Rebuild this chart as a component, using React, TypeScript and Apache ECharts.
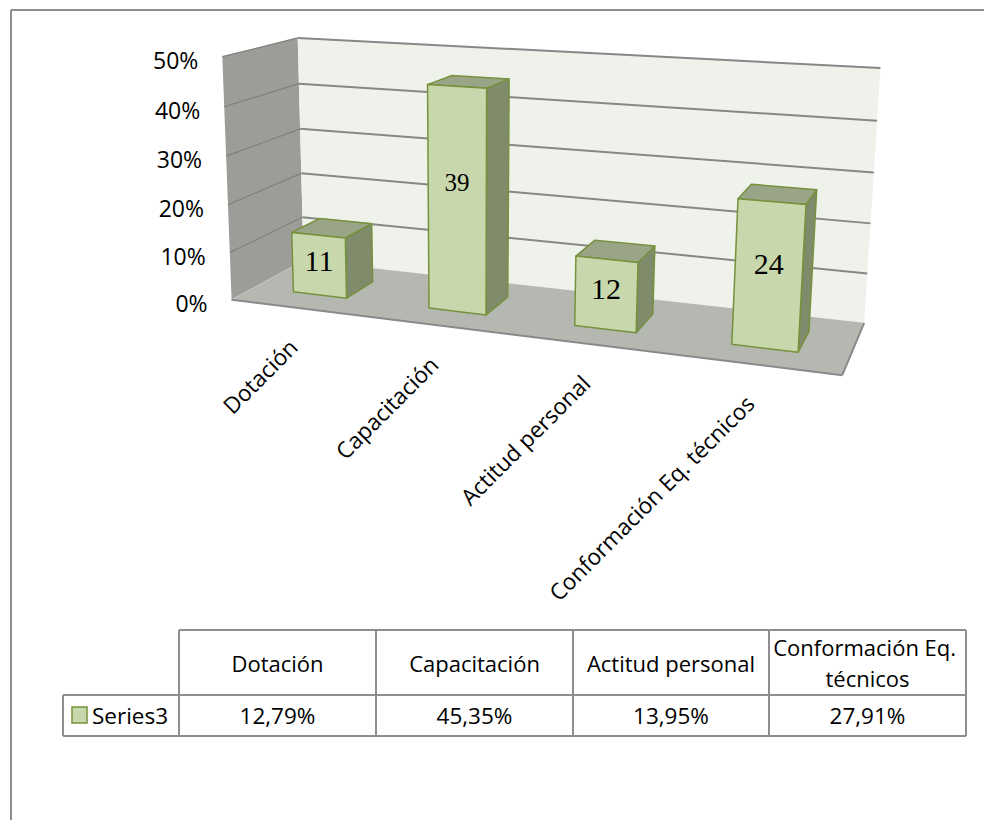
import React, { useEffect, useRef } from 'react';
import * as echarts from 'echarts';

// ---------- data ----------
const categories = ['Dotación', 'Capacitación', 'Actitud personal', 'Conformación Eq. técnicos'];
const percentValues = [12.79, 45.35, 13.95, 27.91];
const barLabels = [11, 39, 12, 24];
const yTicks = [0, 10, 20, 30, 40, 50];
const seriesName = 'Series3';

// ---------- styles ----------
const BACK_WALL = '#eef2eb';
const GRID_LINE = '#878787';
const LEFT_WALL = '#9c9d98';
const LEFT_GRID = '#7f807b';
const FLOOR = '#b5b7b1';
const FLOOR_EDGE = '#8a8a8a';
const BAR_FRONT = '#c8d8ac';
const BAR_SIDE = '#7f8b6b';
const BAR_TOP = '#9aa486';
const BAR_EDGE = '#76923c';
const TABLE_LINE = '#8e8e8e';
const SANS = "'Open Sans', 'Noto Sans', sans-serif";
const SERIF = "'Liberation Serif', 'DejaVu Serif', serif";
const LABEL_FONT = [30, 25, 30, 30];

// ---------- perspective camera (fitted to the 3D box layout) ----------
function solveLinear(A: number[][], b: number[]): number[] {
  const n = b.length;
  const M = A.map((r, i) => [...r, b[i]]);
  for (let c = 0; c < n; c++) {
    let p = c;
    for (let r = c + 1; r < n; r++) if (Math.abs(M[r][c]) > Math.abs(M[p][c])) p = r;
    const t = M[c]; M[c] = M[p]; M[p] = t;
    for (let r = 0; r < n; r++) {
      if (r === c) continue;
      const f = M[r][c] / M[c][c];
      for (let k = c; k <= n; k++) M[r][k] -= f * M[c][k];
    }
  }
  return M.map((r, i) => r[n] / r[i]);
}

function buildCamera() {
  // [u, v, w, screenX, screenY] : u across categories, v value fraction, w depth (0 front, 1 back)
  const calib: number[][] = [
    [0, 0, 0, 235, 299], [1, 0, 0, 842, 377], [0, 1, 0, 220, 57],
    [0, 0, 1, 300, 263], [1, 0, 1, 865, 321], [0, 1, 1, 301, 38], [1, 1, 1, 880, 68],
    [0, 0.8, 0, 222, 107], [0, 0.6, 0, 225, 156], [0, 0.4, 0, 228, 204], [0, 0.2, 0, 232, 252],
    [0, 0.8, 1, 300, 84], [0, 0.6, 1, 301, 128], [0, 0.4, 1, 301, 173], [0, 0.2, 1, 301, 217],
    [1, 0.8, 1, 877, 121], [1, 0.6, 1, 874, 173], [1, 0.2, 1, 867, 273],
  ];
  const AtA = Array.from({ length: 11 }, () => new Array(11).fill(0));
  const Atb = new Array(11).fill(0);
  const add = (row: number[], rhs: number) => {
    for (let i = 0; i < 11; i++) {
      Atb[i] += row[i] * rhs;
      for (let j = 0; j < 11; j++) AtA[i][j] += row[i] * row[j];
    }
  };
  for (const [u, v, w, x, y] of calib) {
    const xn = x / 1000, yn = y / 1000;
    add([u, v, w, 1, 0, 0, 0, 0, -xn * u, -xn * v, -xn * w], xn);
    add([0, 0, 0, 0, u, v, w, 1, -yn * u, -yn * v, -yn * w], yn);
  }
  const p = solveLinear(AtA, Atb);
  return (u: number, v: number, w: number): number[] => {
    const d = p[8] * u + p[9] * v + p[10] * w + 1;
    return [
      (1000 * (p[0] * u + p[1] * v + p[2] * w + p[3])) / d,
      (1000 * (p[4] * u + p[5] * v + p[6] * w + p[7])) / d,
    ];
  };
}
const P = buildCamera();

function normalizer(params: any) {
  const cs = params.coordSys;
  return {
    toU: (px: number) => (px - cs.x) / cs.width,
    toV: (py: number) => (cs.y + cs.height - py) / cs.height,
  };
}

const W0 = 0.3;
const W1 = 0.7;
const BAR_FRACTION = 0.4;

function renderWalls(params: any, api: any) {
  const { toU, toV } = normalizer(params);
  const children: any[] = [];
  const poly = (pts: number[][], fill: string) => ({
    type: 'polygon',
    shape: { points: pts },
    style: { fill, stroke: 'none' },
  });
  children.push(poly([P(0, 0, 0), P(0, 0, 1), P(0, 1, 1), P(0, 1, 0)], LEFT_WALL));
  children.push(poly([P(0, 0, 1), P(1, 0, 1), P(1, 1, 1), P(0, 1, 1)], BACK_WALL));
  children.push(poly([P(0, 0, 0), P(1, 0, 0), P(1, 0, 1), P(0, 0, 1)], FLOOR));
  const line = (a: number[], b: number[], stroke: string, lw: number) => ({
    type: 'line',
    shape: { x1: a[0], y1: a[1], x2: b[0], y2: b[1] },
    style: { stroke, lineWidth: lw },
  });
  yTicks.forEach((t) => {
    const v = toV(api.coord([0, t])[1]);
    if (t > 0) {
      children.push(line(P(0, v, 1), P(1, v, 1), GRID_LINE, 2));
      children.push(line(P(0, v, 0), P(0, v, 1), LEFT_GRID, 1.2));
    }
    const q = P(0, v, 0);
    children.push({
      type: 'text',
      x: q[0] - 24,
      y: q[1] + 3,
      style: {
        text: t + '%',
        fontSize: 23,
        fontFamily: SANS,
        fill: '#000',
        align: 'right',
        verticalAlign: 'middle',
        textAlign: 'right',
        textVerticalAlign: 'middle',
      },
    });
  });
  children.push(line(P(0, 0, 0), P(0, 0, 1), '#c4c5c1', 1));
  children.push(line(P(0, 0, 0), P(1, 0, 0), FLOOR_EDGE, 2));
  children.push(line(P(1, 0, 0), P(1, 0, 1), FLOOR_EDGE, 2));
  categories.forEach((c, i) => {
    const u = toU(api.coord([i, 0])[0]);
    const q = P(u, 0, 0);
    children.push({
      type: 'text',
      x: q[0] - 5,
      y: q[1] + 35,
      rotation: Math.PI / 4,
      style: {
        text: c,
        fontSize: 22.5,
        fontFamily: SANS,
        fill: '#000',
        align: 'right',
        verticalAlign: 'middle',
        textAlign: 'right',
        textVerticalAlign: 'middle',
      },
    });
  });
  return { type: 'group', children };
}

function renderBar(params: any, api: any) {
  const { toU, toV } = normalizer(params);
  const i = api.value(0);
  const val = api.value(1);
  const top = api.coord([i, val]);
  const band = api.size([1, 0])[0];
  const u0 = toU(top[0] - (BAR_FRACTION / 2) * band);
  const u1 = toU(top[0] + (BAR_FRACTION / 2) * band);
  const v = toV(top[1]);
  const face = (pts: number[][], fill: string) => ({
    type: 'polygon',
    shape: { points: pts },
    style: { fill, stroke: BAR_EDGE, lineWidth: 1.5, lineJoin: 'round' },
  });
  const children: any[] = [
    face([P(u1, 0, W0), P(u1, 0, W1), P(u1, v, W1), P(u1, v, W0)], BAR_SIDE),
    face([P(u0, v, W0), P(u1, v, W0), P(u1, v, W1), P(u0, v, W1)], BAR_TOP),
    face([P(u0, 0, W0), P(u1, 0, W0), P(u1, v, W0), P(u0, v, W0)], BAR_FRONT),
  ];
  const c = P((u0 + u1) / 2, v * 0.58, W0);
  const idx = params.dataIndex;
  children.push({
    type: 'text',
    x: c[0],
    y: c[1],
    style: {
      text: String(barLabels[idx]),
      fontSize: LABEL_FONT[idx],
      fontFamily: SERIF,
      fill: '#000',
      align: 'center',
      verticalAlign: 'middle',
      textAlign: 'center',
      textVerticalAlign: 'middle',
    },
  });
  return { type: 'group', children };
}

function fmtPct(v: number) {
  return v.toFixed(2).replace('.', ',') + '%';
}

function buildTable(): any[] {
  const els: any[] = [];
  const colX = [179, 376, 573, 769, 966];
  const yTop = 630, yMid = 695, yBot = 736, xLeft = 63;
  const ln = (x1: number, y1: number, x2: number, y2: number) => ({
    type: 'line',
    shape: { x1, y1, x2, y2 },
    style: { stroke: TABLE_LINE, lineWidth: 2 },
    z: 10,
  });
  els.push(ln(colX[0], yTop, colX[4], yTop));
  els.push(ln(xLeft, yMid, colX[4], yMid));
  els.push(ln(xLeft, yBot, colX[4], yBot));
  els.push(ln(xLeft, yMid, xLeft, yBot));
  colX.forEach((x) => els.push(ln(x, yTop, x, yBot)));
  categories.forEach((c, i) => {
    const cx = (colX[i] + colX[i + 1]) / 2;
    els.push({
      type: 'text',
      x: cx,
      y: (yTop + yMid) / 2,
      z: 10,
      style: {
        text: c,
        width: 215,
        overflow: 'break',
        lineHeight: 31,
        fontSize: 22,
        fontFamily: SANS,
        fill: '#000',
        align: 'center',
        verticalAlign: 'middle',
        textAlign: 'center',
        textVerticalAlign: 'middle',
      },
    });
    els.push({
      type: 'text',
      x: cx,
      y: (yMid + yBot) / 2,
      z: 10,
      style: {
        text: fmtPct(percentValues[i]),
        fontSize: 22.5,
        fontFamily: SANS,
        fill: '#000',
        align: 'center',
        verticalAlign: 'middle',
        textAlign: 'center',
        textVerticalAlign: 'middle',
      },
    });
  });
  els.push({
    type: 'rect',
    shape: { x: 72, y: 707, width: 15, height: 16 },
    style: { fill: BAR_FRONT, stroke: BAR_EDGE, lineWidth: 1.5 },
    z: 10,
  });
  els.push({
    type: 'text',
    x: 92,
    y: (yMid + yBot) / 2,
    z: 10,
    style: {
      text: seriesName,
      fontSize: 22.5,
      fontFamily: SANS,
      fill: '#000',
      align: 'left',
      verticalAlign: 'middle',
      textAlign: 'left',
      textVerticalAlign: 'middle',
    },
  });
  // chart area border
  els.push({
    type: 'line',
    shape: { x1: 11, y1: 10, x2: 990, y2: 10 },
    style: { stroke: TABLE_LINE, lineWidth: 2 },
  });
  els.push({
    type: 'line',
    shape: { x1: 11, y1: 10, x2: 11, y2: 830 },
    style: { stroke: TABLE_LINE, lineWidth: 2 },
  });
  return els;
}

export default function App() {
  const ref = useRef<HTMLDivElement>(null);
  useEffect(() => {
    if (!ref.current) return;
    const chart = echarts.init(ref.current, null, { renderer: 'svg' });
    chart.setOption({
      animation: false,
      backgroundColor: '#ffffff',
      grid: { left: 100, top: 100, width: 600, height: 300, show: false },
      xAxis: { type: 'category', data: categories, show: false },
      yAxis: { type: 'value', min: 0, max: 50, interval: 10, show: false },
      series: [
        {
          type: 'custom',
          name: 'walls',
          z: 1,
          clip: false,
          silent: true,
          data: [[0, 0]],
          renderItem: renderWalls,
        },
        {
          type: 'custom',
          name: seriesName,
          z: 3,
          clip: false,
          data: percentValues.map((v, i) => [i, v]),
          renderItem: renderBar,
        },
      ],
      graphic: buildTable(),
    });
    return () => chart.dispose();
  }, []);
  return (
    <div
      ref={ref}
      style={{ position: 'absolute', left: 0, top: 0, width: 984, height: 820, background: '#fff' }}
    />
  );
}
